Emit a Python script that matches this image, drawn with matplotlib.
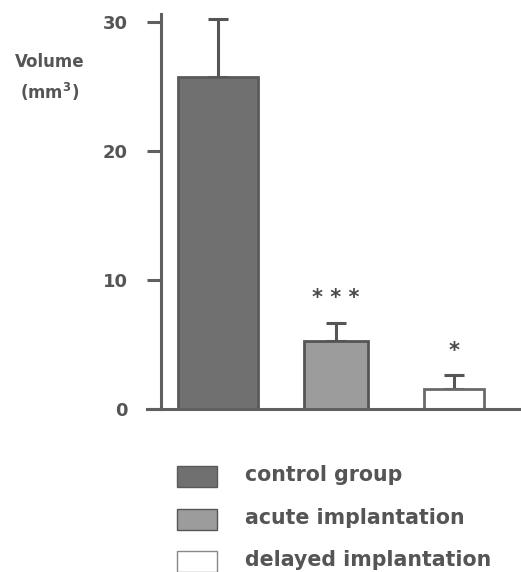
import matplotlib
matplotlib.use("Agg")
import matplotlib.pyplot as plt
from matplotlib.patches import Rectangle

plt.rcParams['font.family'] = ['DejaVu Sans']

groups = ["control group", "acute implantation", "delayed implantation"]
means = [25.7, 5.3, 1.55]
errors = [4.5, 1.4, 1.05]
stars = ["", "***", "*"]
yticks = [0, 10, 20, 30]

fills = ["#707070", "#9c9c9c", "#ffffff"]
edges = ["#5a5a5a", "#555555", "#6a6a6a"]
widths = [0.68, 0.55, 0.51]
txt = "#555555"

W, H = 521, 572
fig = plt.figure(figsize=(W / 100, H / 100), dpi=100)

left, right = 161, 521
top, bottom = 14, 409
ax = fig.add_axes([left / W, 1 - bottom / H, (right - left) / W, (bottom - top) / H])
pxu = (409 - 22) / 30.0
ax.set_ylim(0, (bottom - top) / pxu)
ax.set_xlim(-0.483, 2.568)

xs = list(range(len(groups)))
ax.bar(xs, means, width=widths, color=fills, edgecolor=edges, linewidth=2.0, zorder=2)
ax.errorbar(xs, means, yerr=[[0] * 3, errors], fmt='none', ecolor="#555555",
            elinewidth=2.2, capsize=7, capthick=2.2, zorder=1)
for x, m, e, s in zip(xs, means, errors, stars):
    if s:
        ax.text(x, m + e + 1.9, " ".join(s), ha='center', va='center', fontsize=15,
                fontweight='bold', color="#4a4a4a")

for s in ['top', 'right']:
    ax.spines[s].set_visible(False)
for s in ['left', 'bottom']:
    ax.spines[s].set_color("#606060")
    ax.spines[s].set_linewidth(2.2)
ax.spines['bottom'].set_bounds(-0.6, 2.568)
ax.spines['bottom'].set_clip_on(False)
ax.set_xticks([])
ax.set_yticks(yticks)
ax.set_yticklabels([str(t) for t in yticks], fontsize=13, fontweight='bold', color=txt)
ax.tick_params(axis='y', length=10, width=2.2, color="#606060", pad=14)

fig.text(50 / W, 1 - 62 / H, "Volume", ha='center', va='center', fontsize=12,
         fontweight='bold', color=txt)
fig.text(50 / W, 1 - 92 / H, "(mm$^{\\mathbf{3}}$)", ha='center', va='center', fontsize=12,
         fontweight='bold', color=txt)

# legend
ys = [477, 520, 562]
for g, f, e, y in zip(groups, fills, edges, ys):
    fig.patches.append(Rectangle((177 / W, 1 - (y + 10) / H), 40 / W, 21 / H,
                                 transform=fig.transFigure, facecolor=f,
                                 edgecolor=e if f != "#ffffff" else "#888888",
                                 linewidth=1.0))
    fig.text(245 / W, 1 - (y - 2) / H, g, ha='left', va='center', fontsize=14.8,
             fontweight='bold', color=txt)

fig.savefig("out.png", dpi=100)
